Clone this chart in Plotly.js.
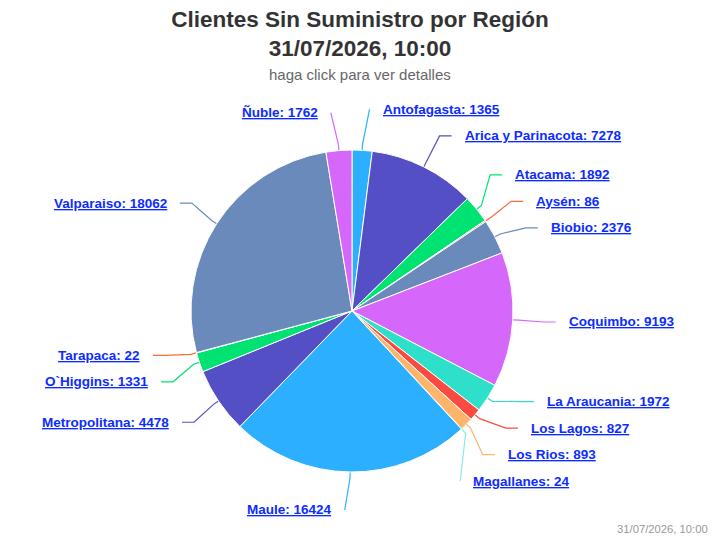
<!DOCTYPE html>
<html><head><meta charset="utf-8">
<script src="https://cdn.plot.ly/plotly-3.0.1.min.js"></script>
<style>html,body{margin:0;padding:0;background:#fff}</style>
</head><body><div id="chart" style="width:720px;height:540px"></div>
<script>
// ---- data ----
const regions = ['Antofagasta','Arica y Parinacota','Atacama','Aysén','Biobio','Coquimbo','La Araucania','Los Lagos','Los Rios','Magallanes','Maule','Metropolitana','O`Higgins','Tarapaca','Valparaiso','Ñuble'];
const clientes = [1365,7278,1892,86,2376,9193,1972,827,893,24,16424,4478,1331,22,18062,1762];
const palette = ['#2caffe','#544fc5','#00e272','#fe6a35','#6b8abc','#d568fb','#2ee0ca','#fa4b42','#feb56a','#91e8e1'];
const titleText = 'Clientes Sin Suministro por Región';
const fecha = '31/07/2026, 10:00';
const subtitleText = 'haga click para ver detalles';

// ---- layout constants (pixels) ----
const W = 720, H = 540;
const CX = 352, CY = 311, RAD = 161;      // pie centre and radius
const LBL_R = 199, PAD = 5, BREAK = 6, GAP = 12, CROOK = 12, BOX = 26.5;
const FONT = 'Liberation Sans, Arial, Helvetica, sans-serif';
const LINK = '#0c2cff';

const colors = regions.map((_, i) => palette[i % palette.length]);
const total = clientes.reduce((a, b) => a + b, 0);

// slice mid angles (clockwise from 12 o'clock)
let cum = 0;
const pts = clientes.map((v, i) => {
  const mid = (cum + v / 2) / total * 2 * Math.PI;
  cum += v;
  const s = Math.sin(mid), c = Math.cos(mid);
  const natY = CY - LBL_R * c;
  return { i, s, c, right: s >= 0, natY, y: natY };
});

// avoid label overlap on each side
function distribute(list) {
  list.sort((a, b) => a.natY - b.natY);
  const place = cl => { const n = cl.items.length; cl.top = cl.center - n * BOX / 2; cl.bottom = cl.top + n * BOX; };
  let clusters = list.map(p => ({ items: [p], center: p.natY }));
  clusters.forEach(place);
  let merged = true;
  while (merged) {
    merged = false;
    for (let k = 0; k < clusters.length - 1; k++) {
      const a = clusters[k], b = clusters[k + 1];
      if (a.bottom > b.top) {
        const items = a.items.concat(b.items);
        const cl = { items, center: items.reduce((s, p) => s + p.natY, 0) / items.length };
        place(cl);
        clusters.splice(k, 2, cl);
        merged = true;
        break;
      }
    }
  }
  clusters.forEach(cl => cl.items.forEach((p, j) => { p.y = cl.top + BOX * (j + 0.5); }));
}
distribute(pts.filter(p => p.right));
distribute(pts.filter(p => !p.right));

const px = x => x / W, py = y => 1 - y / H;
const shapes = [], annotations = [];
pts.forEach(p => {
  const dir = p.right ? 1 : -1;
  const yx = (p.y < CY - LBL_R + 2 || p.y > CY + LBL_R - 2) ? p.natY : p.y;
  const dy = yx - CY;
  const xEnd = CX + dir * (Math.sqrt(Math.max(0, LBL_R * LBL_R - dy * dy)) + PAD);
  const bx = CX + (RAD + BREAK) * p.s, by = CY - (RAD + BREAK) * p.c;
  const tx = CX + RAD * p.s, ty = CY - RAD * p.c;
  const cx = xEnd - dir * CROOK;
  let path = `M ${px(xEnd)} ${py(p.y)}`;
  if ((cx - bx) * dir > 0) path += ` L ${px(cx)} ${py(p.y)}`;
  path += ` L ${px(bx)} ${py(by)} L ${px(tx)} ${py(ty)}`;
  shapes.push({ type: 'path', xref: 'paper', yref: 'paper', path,
    line: { color: colors[p.i], width: 1.2 }, layer: 'below' });
  annotations.push({
    xref: 'paper', yref: 'paper', x: px(xEnd + dir * GAP), y: py(p.y),
    xanchor: p.right ? 'left' : 'right', yanchor: 'middle', showarrow: false,
    text: `${regions[p.i]}: ${clientes[p.i]}`, borderpad: 0,
    font: { family: FONT, size: 13.5, color: LINK, weight: 700, lineposition: 'under' }
  });
});

annotations.push({
  xref: 'paper', yref: 'paper', x: 0.5, y: py(75), xanchor: 'center', yanchor: 'middle',
  showarrow: false, text: subtitleText, font: { family: FONT, size: 15, color: '#666666' }
});
annotations.push({
  xref: 'paper', yref: 'paper', x: px(710), y: py(529), xanchor: 'right', yanchor: 'middle',
  showarrow: false, text: fecha, font: { family: FONT, size: 11.25, color: '#999999' }
});

const trace = {
  type: 'pie', labels: regions, values: clientes, sort: false,
  direction: 'clockwise', rotation: 0, textinfo: 'none', hoverinfo: 'label+value',
  marker: { colors, line: { color: '#ffffff', width: 1 } },
  domain: { x: [px(CX - RAD), px(CX + RAD)], y: [py(CY + RAD), py(CY - RAD)] },
  showlegend: false
};

const layout = {
  width: W, height: H, margin: { l: 0, r: 0, t: 0, b: 0 },
  paper_bgcolor: '#ffffff', showlegend: false,
  font: { family: FONT },
  title: { text: titleText + '<br>' + fecha, x: 0.5, xanchor: 'center', xref: 'paper',
    y: 1 - 27 / H, yanchor: 'top', yref: 'container',
    font: { family: FONT, size: 22.5, color: '#333333', weight: 700 } },
  shapes, annotations
};

Plotly.newPlot('chart', [trace], layout, { displayModeBar: false, responsive: false });
</script>
</body></html>
